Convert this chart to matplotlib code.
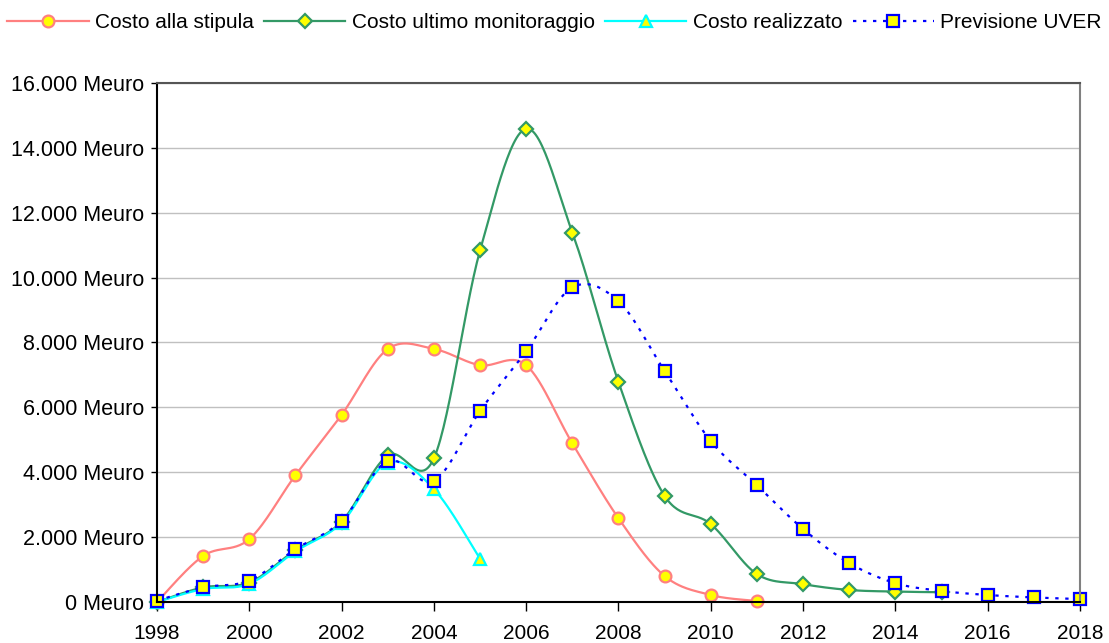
import matplotlib
matplotlib.use("Agg")
import matplotlib.pyplot as plt
from matplotlib.ticker import FuncFormatter
import numpy as np

plt.rcParams['font.family'] = ['Liberation Sans', 'DejaVu Sans']

# dati (milioni di euro)
anni_stipula = [1998, 1999, 2000, 2001, 2002, 2003, 2004, 2005, 2006, 2007, 2008, 2009, 2010, 2011]
costo_stipula = [0, 1420, 1940, 3910, 5770, 7800, 7800, 7300, 7300, 4890, 2580, 800, 215, 30]

anni_monit = [1998, 1999, 2000, 2001, 2002, 2003, 2004, 2005, 2006, 2007, 2008, 2009, 2010, 2011,
              2012, 2013, 2014, 2015]
costo_monit = [0, 450, 600, 1600, 2480, 4520, 4430, 10840, 14590, 11390, 6780, 3270, 2400, 860,
               550, 370, 320, 300]

anni_real = [1998, 1999, 2000, 2001, 2002, 2003, 2004, 2005]
costo_real = [0, 400, 560, 1560, 2440, 4300, 3480, 1330]

anni_uver = [1998, 1999, 2000, 2001, 2002, 2003, 2004, 2005, 2006, 2007, 2008, 2009, 2010, 2011,
             2012, 2013, 2014, 2015, 2016, 2017, 2018]
previsione_uver = [40, 450, 660, 1630, 2500, 4350, 3730, 5890, 7730, 9700, 9270, 7120, 4960, 3600,
                   2250, 1200, 580, 340, 215, 140, 90]


def curva_smussata(x, y, n=30):
    """Linea smussata tipo Excel (Bezier / Catmull-Rom) che passa per i punti."""
    x = np.asarray(x, float)
    y = np.asarray(y, float)
    px = np.concatenate(([x[0]], x, [x[-1]]))
    py = np.concatenate(([y[0]], y, [y[-1]]))
    xs, ys = [], []
    t = np.linspace(0, 1, n)
    for i in range(1, len(px) - 2):
        p0 = np.array([px[i], py[i]])
        p3 = np.array([px[i + 1], py[i + 1]])
        p1 = p0 + (np.array([px[i + 1], py[i + 1]]) - np.array([px[i - 1], py[i - 1]])) / 6
        p2 = p3 - (np.array([px[i + 2], py[i + 2]]) - np.array([px[i], py[i]])) / 6
        b = ((1 - t) ** 3)[:, None] * p0 + (3 * (1 - t) ** 2 * t)[:, None] * p1 \
            + (3 * (1 - t) * t ** 2)[:, None] * p2 + (t ** 3)[:, None] * p3
        xs.extend(b[:, 0])
        ys.extend(b[:, 1])
    return xs, ys


fig = plt.figure(figsize=(11.09, 6.43), dpi=100)
ax = fig.add_axes([0.1416, 0.0638, 0.8322, 0.8071])

serie = [
    (anni_stipula, costo_stipula, '#FF8080', '-', 'o', '#FF8080', 8.5, 'Costo alla stipula'),
    (anni_monit, costo_monit, '#339966', '-', 'D', '#339966', 7.5, 'Costo ultimo monitoraggio'),
    (anni_real, costo_real, '#00FFFF', '-', '^', '#00FFFF', 9, 'Costo realizzato'),
    (anni_uver, previsione_uver, '#0000FF', (0, (1.5, 3)), 's', '#0000FF', 8.5, 'Previsione UVER'),
]

handles = []
for xx, yy, col, ls, mk, ec, ms, lab in serie:
    sx, sy = curva_smussata(xx, yy)
    ax.plot(sx, sy, color=col, linestyle=ls, linewidth=1.6, clip_on=False)
    ax.plot(xx, yy, linestyle='none', marker=mk, markersize=ms, markerfacecolor='#FFFF00',
            markeredgecolor=ec, markeredgewidth=1.6, clip_on=False)
    h, = ax.plot([], [], color=col, linestyle=ls, linewidth=1.6, marker=mk, markersize=ms,
                 markerfacecolor='#FFFF00', markeredgecolor=ec, markeredgewidth=1.6, label=lab)
    handles.append(h)

ax.set_xlim(1998, 2018)
ax.set_ylim(0, 16000)
ax.set_xticks(range(1998, 2019, 2))
ax.set_yticks(range(0, 16001, 2000))
ax.yaxis.set_major_formatter(FuncFormatter(lambda v, p: f"{int(v):,}".replace(',', '.') + " Meuro"))

ax.grid(axis='y', color='#C0C0C0', linewidth=1)
ax.set_axisbelow(True)
ax.tick_params(axis='both', direction='out', width=1, color='black')
ax.tick_params(axis='x', labelsize=15, length=6.5, pad=9)
ax.tick_params(axis='y', labelsize=15.5, length=4.5, pad=5)

ax.spines['left'].set_color('black')
ax.spines['bottom'].set_color('black')
ax.spines['top'].set_color('#555555')
ax.spines['right'].set_color('#808080')
for s in ax.spines.values():
    s.set_linewidth(1.5)

fig.legend(handles=handles, loc='center', bbox_to_anchor=(0.5, 0.965), ncol=4, frameon=False,
           fontsize=15, handlelength=3.9, handletextpad=0.3, columnspacing=0.5)

fig.savefig('out.png', dpi=100)
